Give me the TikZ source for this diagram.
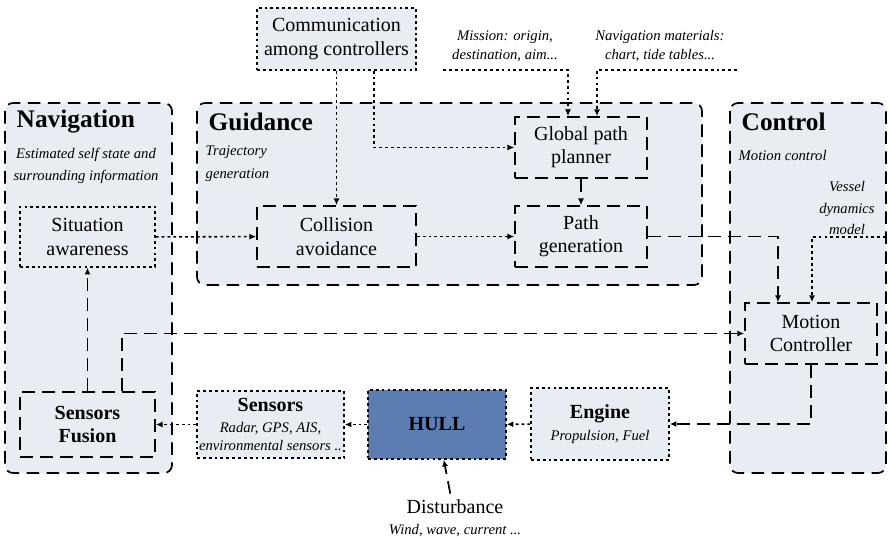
\documentclass[tikz,border=0pt]{standalone}
\usepackage{fontspec}
\setmainfont{LiberationSerif}[Extension=.ttf,UprightFont=*-Regular,BoldFont=*-Bold,ItalicFont=*-Italic,BoldItalicFont=*-BoldItalic]
\usetikzlibrary{arrows.meta,calc}
\definecolor{Panel}{HTML}{E8EDF4}
\definecolor{Hull}{HTML}{5B7DB1}

\begin{document}
\begin{tikzpicture}[x=0.75pt,y=-0.75pt,
  font=\fontsize{15}{17.5}\selectfont,
  dsh/.style={line width=1.3pt,dash pattern=on 9.5pt off 5.5pt},
  dot/.style={line width=1.15pt,dash pattern=on 2.1pt off 2.3pt},
  panel/.style={dsh,fill=Panel,rounded corners=6pt},
  box/.style={draw,inner sep=0pt,align=center},
  sz/.style 2 args={minimum width={#1*0.75pt},minimum height={#2*0.75pt}},
  tip/.style={-{Latex[length=5pt,width=4.5pt]}},
  head/.style={font=\fontsize{19}{22}\selectfont\bfseries,anchor=west},
  note/.style={font=\fontsize{11}{17}\selectfont\itshape,align=center},
  small/.style={font=\fontsize{11}{13.5}\selectfont\itshape},
  bold/.style={font=\fontsize{15}{17.5}\selectfont\bfseries}]
  \useasboundingbox (0,0) rectangle (890,538);
  % the three panels
  \draw[panel] (5,103) rectangle (172,473);
  \draw[panel] (197,103) rectangle (702,285);
  \draw[panel] (730,103) rectangle (886,473);
  \node[head] (navT) at (12,122) {Navigation};
  \node[note] (navN) at (86,166) {Estimated self state and\\surrounding information};
  \node[head] (guiT) at (204,122) {Guidance};
  \node[note,align=left,anchor=west] (guiN) at (201,164) {Trajectory\\generation};
  \node[head] (ctlT) at (737,122) {Control};
  \node[note,anchor=west] (ctlN) at (734,155) {Motion control};
  \node[note,font=\fontsize{11}{16}\selectfont\itshape] (vdmT) at (847,208) {Vessel\\dynamics\\model};
  \node[note,font=\fontsize{11}{14}\selectfont\itshape] (misT) at (505,46) {Mission: origin,\\destination, aim...};
  \node[note,font=\fontsize{11}{14}\selectfont\itshape] (matT) at (660,46) {Navigation materials:\\chart, tide tables...};
  % blocks
  \node[box,dot,fill=Panel,sz={159}{62}] (comm) at (336.5,39) {Communication\\among controllers};
  \node[box,dsh,sz={132}{61}] (gpp) at (581,147.5) {Global path\\planner};
  \node[box,dsh,sz={132}{61}] (pgen) at (581,236.5) {Path\\generation};
  \node[box,dsh,sz={159}{61}] (colav) at (336.5,236.5) {Collision\\avoidance};
  \node[box,dot,sz={135}{60}] (sitaw) at (87.5,237) {Situation\\awareness};
  \node[box,dsh,bold,sz={135}{65}] (fusion) at (87.5,424.5) {Sensors\\Fusion};
  \node[box,dsh,sz={132}{61}] (motion) at (811,333.5) {Motion\\Controller};
  \node[box,dot,fill=Panel,small,sz={147}{67}] (sens) at (270.5,424.5)
    {{\fontsize{15}{17.5}\selectfont\upshape\bfseries Sensors}\\[2.5pt]Radar, GPS, AIS,\\environmental sensors ..};
  \node[box,dot,fill=Hull,bold,sz={138}{69}] (hull) at (437,424.5) {HULL};
  \node[box,dot,fill=Panel,small,sz={138}{72}] (engine) at (600,424)
    {{\fontsize{15}{17.5}\selectfont\upshape\bfseries Engine}\\[2.5pt]Propulsion, Fuel};
  \node[align=center,inner sep=4pt,small] (dist) at (455,518)
    {{\fontsize{15}{17.5}\selectfont\upshape Disturbance}\\[2.5pt]Wind, wave, current ...};
  \coordinate (mis) at (443,70);
  \coordinate (mat) at (737,70);
  \coordinate (vdm) at (886,237);
  % connectors
  \draw[dot,tip] (comm.south) -- (colav.north);
  \draw[dot,tip] ($(comm.south)+(37.5,0)$) |- (gpp.west);
  \draw[dot,tip] (mis) -| ($(gpp.north)+(-13,0)$);
  \draw[dot,tip] (mat) -| ($(gpp.north)+(16,0)$);
  \draw[dsh,tip] (gpp) -- (pgen);
  \draw[dot,tip] (sitaw) -- (colav);
  \draw[dot,tip] (colav) -- (pgen);
  \draw[dsh,tip] (pgen.east) -| ($(motion.north)+(-33,0)$);
  \draw[dot,tip] (vdm) -| ($(motion.north)+(1,0)$);
  \draw[dsh,tip] ($(fusion.north)+(34.5,0)$) |- (motion.west);
  \draw[dsh,tip] (fusion) -- (sitaw);
  \draw[dsh,tip] (motion.south) |- (engine.east);
  \draw[dot,tip] (engine) -- (hull);
  \draw[dot,tip] (hull) -- (sens);
  \draw[dot,tip] (sens.west) -- (sens.west -| fusion.east);
  \draw[dsh,tip] (dist) -- (hull);
\end{tikzpicture}
\end{document}
